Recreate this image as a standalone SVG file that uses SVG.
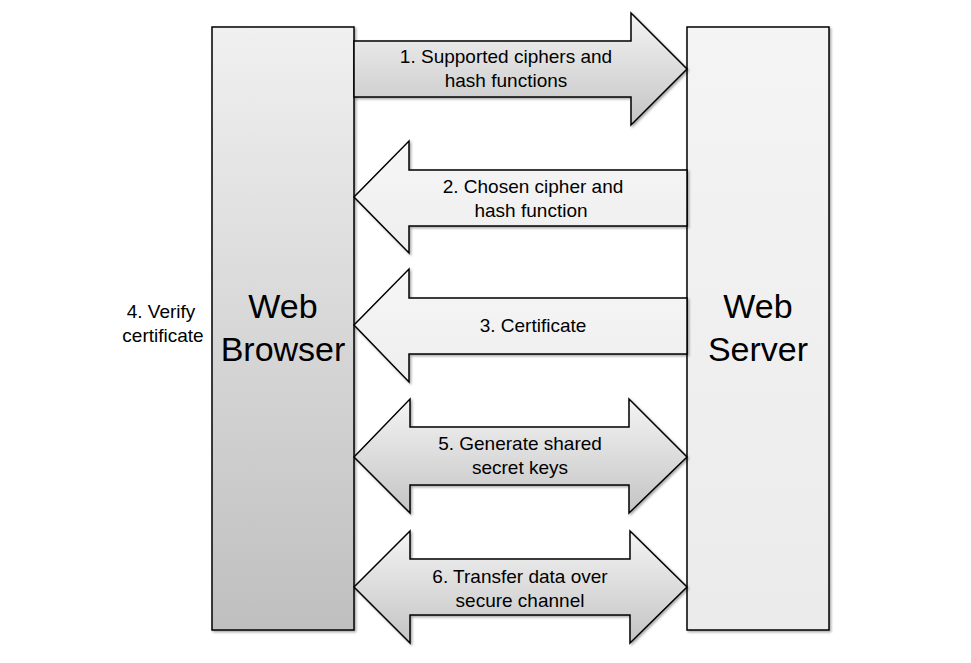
<svg xmlns="http://www.w3.org/2000/svg" width="971" height="663" viewBox="0 0 971 663">
<style>
.box{stroke:#000;stroke-width:1.5}
.arr{stroke:#000;stroke-width:1.5;stroke-linejoin:miter}
.t{font-family:"Liberation Sans",Arial,sans-serif;font-size:19px;fill:#000;text-anchor:middle}
.big{font-family:"Liberation Sans",Arial,sans-serif;font-size:34px;fill:#000;text-anchor:middle}
</style>
<defs>
<linearGradient id="gL" x1="0" y1="0" x2="0" y2="1"><stop offset="0" stop-color="#f0f0f0"/><stop offset="1" stop-color="#bfbfbf"/></linearGradient>
<linearGradient id="gR" x1="0" y1="0" x2="0" y2="1"><stop offset="0" stop-color="#f4f4f4"/><stop offset="1" stop-color="#ebebeb"/></linearGradient>
<linearGradient id="gA" x1="0" y1="0" x2="0" y2="1"><stop offset="0" stop-color="#f4f4f4"/><stop offset="1" stop-color="#c4c4c4"/></linearGradient>
<linearGradient id="gB" x1="0" y1="0" x2="0" y2="1"><stop offset="0" stop-color="#f6f6f6"/><stop offset="1" stop-color="#eeeeee"/></linearGradient>
<filter id="sh" x="-5%" y="-5%" width="115%" height="115%"><feDropShadow dx="1.5" dy="1.5" stdDeviation="1" flood-color="#000" flood-opacity="0.35"/></filter>
</defs>
<rect width="971" height="663" fill="#fff"/>
<g id="browser">
<rect class="box" x="212" y="27" width="142" height="603" fill="url(#gL)" filter="url(#sh)"/>
<text class="big" x="283" y="318">Web</text>
<text class="big" x="283" y="361">Browser</text>
</g>
<g id="server">
<rect class="box" x="687" y="27" width="142" height="603" fill="url(#gR)" filter="url(#sh)"/>
<text class="big" x="758" y="318">Web</text>
<text class="big" x="758" y="361">Server</text>
</g>
<g id="verify">
<text class="t" x="161" y="318">4. Verify</text>
<text class="t" x="163" y="342">certificate</text>
</g>
<g id="connectors">
<g id="a1">
<path class="arr" fill="url(#gA)" filter="url(#sh)" d="M354,41 H631 V13 L687,69 L631,125 V97 H354 Z"/>
<text class="t" x="506" y="63">1. Supported ciphers and</text>
<text class="t" x="506" y="87">hash functions</text>
</g>
<g id="a2">
<path class="arr" fill="url(#gB)" filter="url(#sh)" d="M687,170 H409 V141 L354,197 L409,253 V226 H687 Z"/>
<text class="t" x="533" y="193">2. Chosen cipher and</text>
<text class="t" x="531" y="217">hash function</text>
</g>
<g id="a3">
<path class="arr" fill="url(#gB)" filter="url(#sh)" d="M687,298 H409 V269 L354,325 L409,382 V354 H687 Z"/>
<text class="t" x="533" y="332">3. Certificate</text>
</g>
<g id="a5">
<path class="arr" fill="url(#gA)" filter="url(#sh)" d="M354,457 L410,399 V427 H629 V399 L687,457 L629,513 V485 H410 V513 Z"/>
<text class="t" x="520" y="450">5. Generate shared</text>
<text class="t" x="520" y="474">secret keys</text>
</g>
<g id="a6">
<path class="arr" fill="url(#gA)" filter="url(#sh)" d="M354,587 L410,531 V559 H630 V531 L687,587 L630,643 V615 H410 V643 Z"/>
<text class="t" x="520" y="583">6. Transfer data over</text>
<text class="t" x="520" y="607">secure channel</text>
</g>
</g>
</svg>
